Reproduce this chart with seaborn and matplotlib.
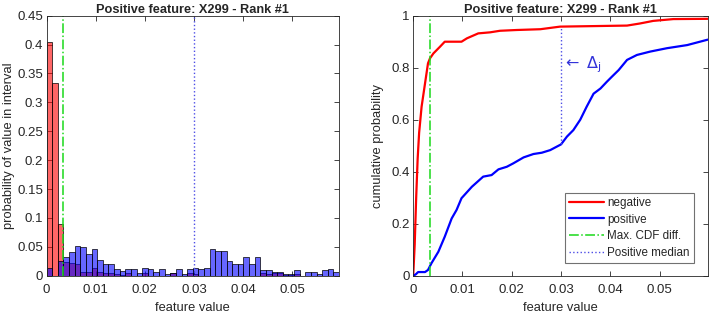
import numpy as np
import matplotlib
matplotlib.use("Agg")
import matplotlib.pyplot as plt
import seaborn as sns
from matplotlib.ticker import FormatStrFormatter, MultipleLocator

# histogram: probability of value in each of 52 equal bins over [0, x_max]
n_bins = 52
x_max = 0.0595
neg_hist = [0.405, 0.333, 0.090, 0.024, 0.022, 0.021, 0.007, 0.007, 0.013, 0.007,
            0.005, 0.005, 0.003, 0.002, 0.005, 0.0, 0.0, 0.004, 0.0, 0.0,
            0.0, 0.0, 0.004, 0.0, 0.0, 0.005, 0.003, 0.0, 0.0, 0.0,
            0.0, 0.0, 0.0, 0.0, 0.0, 0.0, 0.0, 0.0, 0.004, 0.003,
            0.005, 0.004, 0.002, 0.002, 0.003, 0.0, 0.0, 0.0, 0.0, 0.0,
            0.0, 0.0]
pos_hist = [0.014, 0.0, 0.026, 0.032, 0.041, 0.051, 0.049, 0.037, 0.047, 0.027,
            0.021, 0.021, 0.012, 0.008, 0.011, 0.011, 0.005, 0.014, 0.011, 0.006,
            0.011, 0.003, 0.005, 0.011, 0.003, 0.011, 0.014, 0.011, 0.014, 0.046,
            0.043, 0.043, 0.025, 0.020, 0.020, 0.032, 0.020, 0.032, 0.009, 0.009,
            0.006, 0.006, 0.003, 0.003, 0.009, 0.0, 0.006, 0.006, 0.003, 0.009,
            0.011, 0.006]

neg_cdf_x = [0.0, 0.0003, 0.0006, 0.0009, 0.0012, 0.0017, 0.0024, 0.0030, 0.0034,
             0.0041, 0.0054, 0.0064, 0.0081, 0.0098, 0.0109, 0.0132, 0.0156, 0.0176,
             0.0210, 0.0258, 0.0298, 0.0434, 0.0460, 0.0487, 0.0528, 0.0598]
neg_cdf_y = [0.0, 0.12, 0.30, 0.45, 0.55, 0.65, 0.74, 0.817, 0.836,
             0.855, 0.88, 0.90, 0.90, 0.90, 0.913, 0.932, 0.936, 0.942,
             0.945, 0.948, 0.958, 0.962, 0.97, 0.98, 0.987, 0.988]
pos_cdf_x = [0.0, 0.0005, 0.0010, 0.0024, 0.0030, 0.0037, 0.0051, 0.0064, 0.0078,
             0.0088, 0.0098, 0.0119, 0.0142, 0.0159, 0.0173, 0.0190, 0.0203, 0.0224,
             0.0244, 0.0261, 0.0278, 0.0300, 0.0312, 0.0325, 0.0339, 0.0352, 0.0366,
             0.0380, 0.0393, 0.0403, 0.0417, 0.0434, 0.0454, 0.0481, 0.0515, 0.0556,
             0.0598]
pos_cdf_y = [0.0, 0.005, 0.014, 0.014, 0.022, 0.048, 0.092, 0.15, 0.22,
             0.253, 0.298, 0.342, 0.381, 0.387, 0.409, 0.419, 0.432, 0.455,
             0.468, 0.473, 0.483, 0.505, 0.535, 0.56, 0.60, 0.65, 0.70,
             0.72, 0.746, 0.765, 0.791, 0.83, 0.849, 0.862, 0.875, 0.887,
             0.908]

max_cdf_diff = 0.00343
pos_median = 0.0300
median_pos_cdf = 0.505
median_neg_cdf = 0.955

title = "Positive feature: X299 - Rank #1"
red = (1.0, 0.0, 0.0)
blue = (0.0, 0.0, 1.0)
green = (0.1, 0.85, 0.1)
dot_blue = (0.3, 0.3, 0.9)
axis_grey = (0.15, 0.15, 0.15)

sns.set_style("ticks")
plt.rcParams["font.family"] = ["Liberation Sans", "DejaVu Sans"]
plt.rcParams["axes.edgecolor"] = axis_grey
plt.rcParams["axes.linewidth"] = 0.6
plt.rcParams["xtick.color"] = axis_grey
plt.rcParams["ytick.color"] = axis_grey
plt.rcParams["xtick.direction"] = "in"
plt.rcParams["ytick.direction"] = "in"

edges = np.linspace(0, x_max, n_bins + 1)
centers = (edges[:-1] + edges[1:]) / 2

fig = plt.figure(figsize=(7.1, 3.14), dpi=100)
ax1 = fig.add_axes([0.0655, 0.122, 0.412, 0.828])
ax2 = fig.add_axes([0.582, 0.122, 0.415, 0.828])

# left: overlaid histograms
sns.histplot(x=centers, weights=neg_hist, bins=edges.tolist(), color=red, alpha=0.6,
             edgecolor="black", linewidth=0.5, ax=ax1)
sns.histplot(x=centers, weights=pos_hist, bins=edges.tolist(), color=blue, alpha=0.6,
             edgecolor="black", linewidth=0.5, ax=ax1)
ax1.axvline(max_cdf_diff, color=green, ls="-.", lw=1.1)
ax1.axvline(pos_median, color=dot_blue, ls=":", lw=1.0)
ax1.set_xlim(0, x_max)
ax1.set_ylim(0, 0.45)
ax1.yaxis.set_major_locator(MultipleLocator(0.05))
ax1.set_ylabel("probability of value in interval", fontsize=9.3)
ax1.yaxis.set_label_coords(-0.108, 0.5)

# right: CDFs
sns.lineplot(x=neg_cdf_x, y=neg_cdf_y, color=red, lw=1.6, label="negative",
             sort=False, estimator=None, ax=ax2)
sns.lineplot(x=pos_cdf_x, y=pos_cdf_y, color=blue, lw=1.6, label="positive",
             sort=False, estimator=None, ax=ax2)
ax2.axvline(max_cdf_diff, color=green, ls="-.", lw=1.1, label="Max. CDF diff.")
ax2.vlines(pos_median, median_pos_cdf, median_neg_cdf, color=dot_blue, ls=":",
           lw=1.0, label="Positive median")
ax2.text(pos_median + 0.0002, 0.81, r"$\leftarrow$ $\Delta_\mathrm{j}$", color=(0.2, 0.2, 0.85),
         fontsize=11.5, va="center", ha="left")
ax2.set_xlim(0, 0.0598)
ax2.set_ylim(0, 1)
ax2.yaxis.set_major_locator(MultipleLocator(0.2))
ax2.set_ylabel("cumulative probability", fontsize=9.3)
ax2.yaxis.set_label_coords(-0.1, 0.5)
leg = ax2.legend(loc="lower right", bbox_to_anchor=(0.9525, 0.049), fontsize=8.4,
                 frameon=True, fancybox=False, handlelength=3.0, handletextpad=0.3,
                 borderpad=0.35, labelspacing=0.4, borderaxespad=0)
leg.get_frame().set_edgecolor((0.3, 0.3, 0.3))
leg.get_frame().set_linewidth(0.8)

for ax in (ax1, ax2):
    ax.xaxis.set_major_locator(MultipleLocator(0.01))
    ax.xaxis.set_major_formatter(FormatStrFormatter("%g"))
    ax.yaxis.set_major_formatter(FormatStrFormatter("%g"))
    ax.tick_params(top=True, right=True, length=3.5, width=0.6, labelsize=9.5)
    ax.tick_params(axis="x", pad=6)
    ax.tick_params(axis="y", pad=2.5)
    ax.set_xlabel("feature value", fontsize=9.3, labelpad=4)
    ax.set_title(title, fontsize=9.2, fontweight="bold", pad=2)
    for s in ax.spines.values():
        s.set_visible(True)

fig.savefig("out.png", dpi=100)
